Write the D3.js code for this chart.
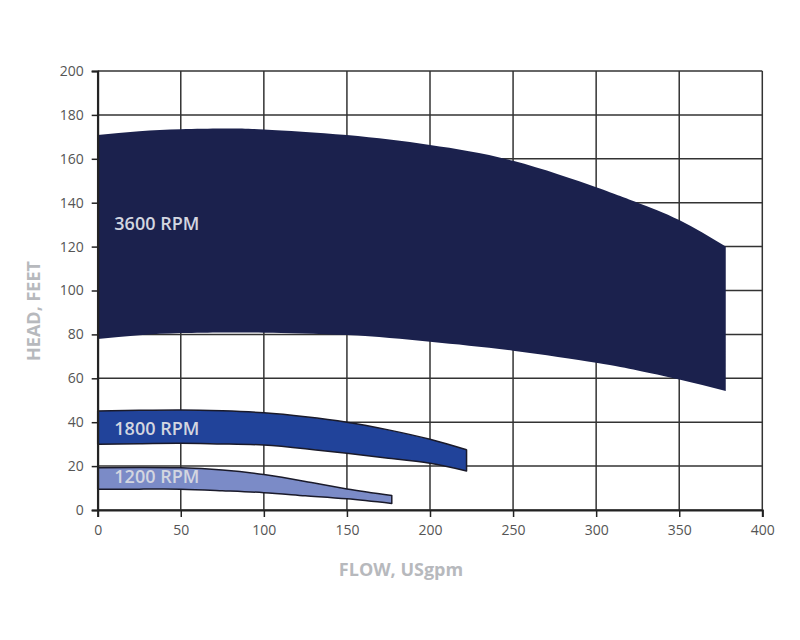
<!DOCTYPE html>
<html>
<head>
<meta charset="utf-8">
<script src="https://cdn.jsdelivr.net/npm/d3@7"></script>
<style>
  body { margin: 0; background: #fff; }
  svg { font-family: "Open Sans", "Noto Sans", sans-serif; }
</style>
</head>
<body>
<svg id="chart" width="800" height="640"></svg>
<script>
// flow (USgpm) sample points and head band (feet) per speed
const flow3600 = [0, 25, 50, 75, 100, 150, 200, 250, 300, 325, 350, 378];
const top3600 = [170.8, 172.6, 173.5, 173.8, 173.4, 170.8, 166.3, 159.1, 147, 140, 132.1, 120];
const bot3600 = [77.9, 79.6, 80.6, 80.9, 80.8, 79.7, 76.7, 72.6, 67.1, 63.6, 59.5, 54.2];

const flow1800 = [0, 25, 50, 75, 100, 125, 150, 175, 200, 222];
const top1800 = [45.1, 45.4, 45.6, 45.2, 44.3, 42.5, 40, 36.5, 32.2, 27.4];
const bot1800 = [29.9, 30.2, 30.4, 30.1, 29.6, 27.9, 25.8, 23.6, 21.3, 17.8];

const flow1200 = [0, 25, 50, 75, 100, 125, 150, 177];
const top1200 = [19.3, 19.4, 19.2, 18.2, 16.2, 13.0, 9.6, 6.6];
const bot1200 = [9.4, 9.5, 9.5, 8.8, 7.9, 6.5, 5.1, 3.0];

const speeds = ["3600 RPM", "1800 RPM", "1200 RPM"];
const labelPos = [[10, 127.5], [10, 34], [10, 12.3]];

const xTicks = [0, 50, 100, 150, 200, 250, 300, 350, 400];
const yTicks = [0, 20, 40, 60, 80, 100, 120, 140, 160, 180, 200];

const svg = d3.select("#chart");
const x = d3.scaleLinear().domain([0, 400]).range([97.7, 762.3]);
const y = d3.scaleLinear().domain([0, 200]).range([510, 71]);

// grid
svg.append("g").selectAll("line.v")
  .data(xTicks)
  .enter().append("line")
  .attr("x1", d => x(d)).attr("x2", d => x(d))
  .attr("y1", y(200)).attr("y2", y(0))
  .attr("stroke", "#333").attr("stroke-width", 1.5);
svg.append("g").selectAll("line.h")
  .data(yTicks)
  .enter().append("line")
  .attr("x1", x(0)).attr("x2", x(400))
  .attr("y1", d => y(d)).attr("y2", d => y(d))
  .attr("stroke", "#333").attr("stroke-width", 1.5);

// bands
const bands = [
  { flow: flow3600, top: top3600, bot: bot3600, fill: "#1b214d", stroke: "none" },
  { flow: flow1800, top: top1800, bot: bot1800, fill: "#21439a", stroke: "#1a1a2a" },
  { flow: flow1200, top: top1200, bot: bot1200, fill: "#7b8bc7", stroke: "#1a1a2a" }
];

const area = d3.area()
  .x(d => x(d.f))
  .y0(d => y(d.b))
  .y1(d => y(d.t))
  .curve(d3.curveNatural);

bands.forEach(b => {
  const pts = b.flow.map((f, i) => ({ f: f, t: b.top[i], b: b.bot[i] }));
  svg.append("path")
    .datum(pts)
    .attr("d", area)
    .attr("fill", b.fill)
    .attr("stroke", b.stroke)
    .attr("stroke-width", 1.5)
    .attr("stroke-linejoin", "round");
});

// band labels
svg.append("g").selectAll("text")
  .data(speeds)
  .enter().append("text")
  .attr("x", (d, i) => x(labelPos[i][0]))
  .attr("y", (d, i) => y(labelPos[i][1]))
  .attr("fill", "#d3d6e0")
  .attr("font-size", 18)
  .attr("font-weight", 600)
  .text(d => d);

// axes
const xAxis = svg.append("g")
  .attr("transform", `translate(0,${y(0)})`)
  .call(d3.axisBottom(x).tickValues(xTicks).tickSize(7).tickPadding(8));
const yAxis = svg.append("g")
  .attr("transform", `translate(${x(0)},0)`)
  .call(d3.axisLeft(y).tickValues(yTicks).tickSize(6).tickPadding(8));

[xAxis, yAxis].forEach(a => {
  a.select(".domain").attr("stroke", "#222").attr("stroke-width", 2);
  a.selectAll(".tick line").attr("stroke", "#222").attr("stroke-width", 1.5);
  a.selectAll(".tick text")
    .attr("fill", "#555")
    .attr("font-size", 14)
    .attr("font-family", "'Open Sans', sans-serif");
});

// axis titles
svg.append("text")
  .attr("x", 401)
  .attr("y", 576)
  .attr("text-anchor", "middle")
  .attr("fill", "#b7b9bd")
  .attr("font-size", 18)
  .attr("font-weight", 700)
  .text("FLOW, USgpm");

svg.append("text")
  .attr("transform", "translate(40,311) rotate(-90)")
  .attr("text-anchor", "middle")
  .attr("fill", "#b7b9bd")
  .attr("font-size", 18)
  .attr("font-weight", 700)
  .text("HEAD, FEET");
</script>
</body>
</html>
